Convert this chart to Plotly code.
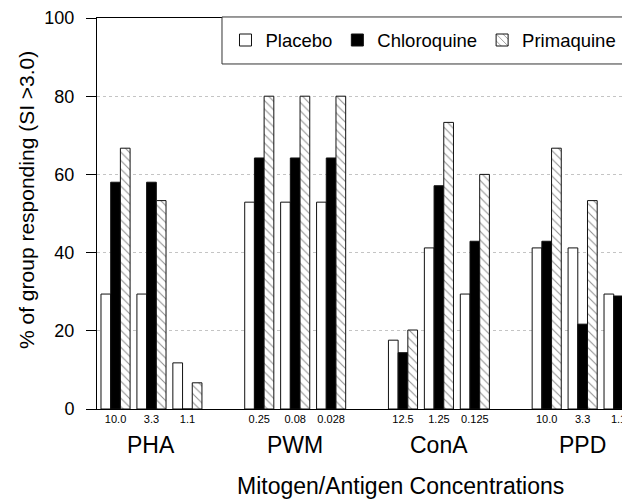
import plotly.graph_objects as go

# ---- data ----
mitogens = ["PHA", "PWM", "ConA", "PPD"]
concentrations = [
    ["10.0", "3.3", "1.1"],
    ["0.25", "0.08", "0.028"],
    ["12.5", "1.25", "0.125"],
    ["10.0", "3.3", "1.1"],
]
placebo = [29.4, 29.4, 11.8, 52.9, 52.9, 52.9, 17.6, 41.2, 29.4, 41.2, 41.2, 29.4]
chloroquine = [58.0, 58.0, 0, 64.2, 64.2, 64.2, 14.4, 57.1, 42.9, 42.9, 21.7, 28.9]
primaquine = [66.7, 53.3, 6.7, 80.0, 80.0, 80.0, 20.2, 73.3, 60.0, 66.7, 53.3, 40.2]
y_ticks = [0, 20, 40, 60, 80, 100]

FONT = "Liberation Sans, Arial, Helvetica, sans-serif"

# positions: one empty slot between mitogen groups
xpos, xlab, group_centers = [], [], []
for g, concs in enumerate(concentrations):
    base = g * (len(concs) + 1)
    for i, c in enumerate(concs):
        xpos.append(base + i)
        xlab.append(c)
    group_centers.append(base + (len(concs) - 1) / 2)

fig = go.Figure()
fig.add_trace(go.Bar(
    x=xpos, y=placebo, name="Placebo",
    marker=dict(color="white", line=dict(color="#111", width=1)),
))
fig.add_trace(go.Bar(
    x=xpos, y=chloroquine, name="Chloroquine",
    marker=dict(color="black", line=dict(color="#111", width=1)),
))
fig.add_trace(go.Bar(
    x=xpos, y=primaquine, name="Primaquine",
    marker=dict(color="white", line=dict(color="#111", width=1),
                pattern=dict(shape="\\", fgcolor="#222", bgcolor="white",
                             size=6, solidity=0.18)),
))

for name, gc in zip(mitogens, group_centers):
    fig.add_annotation(x=gc, xref="x", y=-0.092, yref="paper",
                       text=name, showarrow=False, yanchor="middle",
                       font=dict(size=23, color="black", family=FONT))

fig.add_annotation(x=0.5685, xref="paper", y=-0.197, yref="paper",
                   text="Mitogen/Antigen Concentrations", showarrow=False,
                   xanchor="center", yanchor="middle",
                   font=dict(size=23, color="black", family=FONT))
fig.add_annotation(x=-0.131, xref="paper", y=0.535, yref="paper",
                   text="% of group responding (SI >3.0)", showarrow=False,
                   textangle=-90, xanchor="center", yanchor="middle",
                   font=dict(size=21, color="black", family=FONT))

# legend frame (box drawn behind the legend entries)
LEG_X0, LEG_X1, LEG_Y0, LEG_Y1 = 0.2345, 0.9906, 0.8824, 1.0026
fig.add_shape(type="rect", xref="paper", yref="paper",
              x0=LEG_X0, x1=LEG_X1, y0=LEG_Y0, y1=LEG_Y1,
              line=dict(color="#333", width=1), fillcolor="white", layer="above")

# the page body adds an 8px offset, so the figure is 8px smaller on each side
fig.update_layout(
    width=622, height=493,
    margin=dict(l=89, r=0, t=10, b=92),
    paper_bgcolor="white", plot_bgcolor="white",
    barmode="group", bargap=0.19, bargroupgap=0,
    font=dict(family=FONT, color="black"),
    showlegend=True,
    legend=dict(orientation="h", x=(LEG_X0 + LEG_X1) / 2, xanchor="center",
                y=(LEG_Y0 + LEG_Y1) / 2, yanchor="middle",
                borderwidth=0, bgcolor="rgba(0,0,0,0)",
                font=dict(size=18.5, family=FONT, color="black"),
                itemwidth=30, traceorder="normal"),
    xaxis=dict(range=[-0.516, 14.318], tickmode="array", tickvals=xpos, ticktext=xlab,
               tickfont=dict(size=11, family=FONT, color="black"),
               showline=True, linecolor="black", linewidth=1, mirror=True,
               showgrid=False, zeroline=False, ticks=""),
    yaxis=dict(range=[0, 100], tickmode="array", tickvals=y_ticks,
               tickfont=dict(size=18, family=FONT, color="black"),
               showline=True, linecolor="black", linewidth=1,
               ticks="outside", ticklen=10, tickcolor="black",
               ticklabelstandoff=8,
               showgrid=True, gridcolor="#c4c4c4", griddash="dot", gridwidth=1,
               zeroline=False),
)

fig.write_html("out.html")
